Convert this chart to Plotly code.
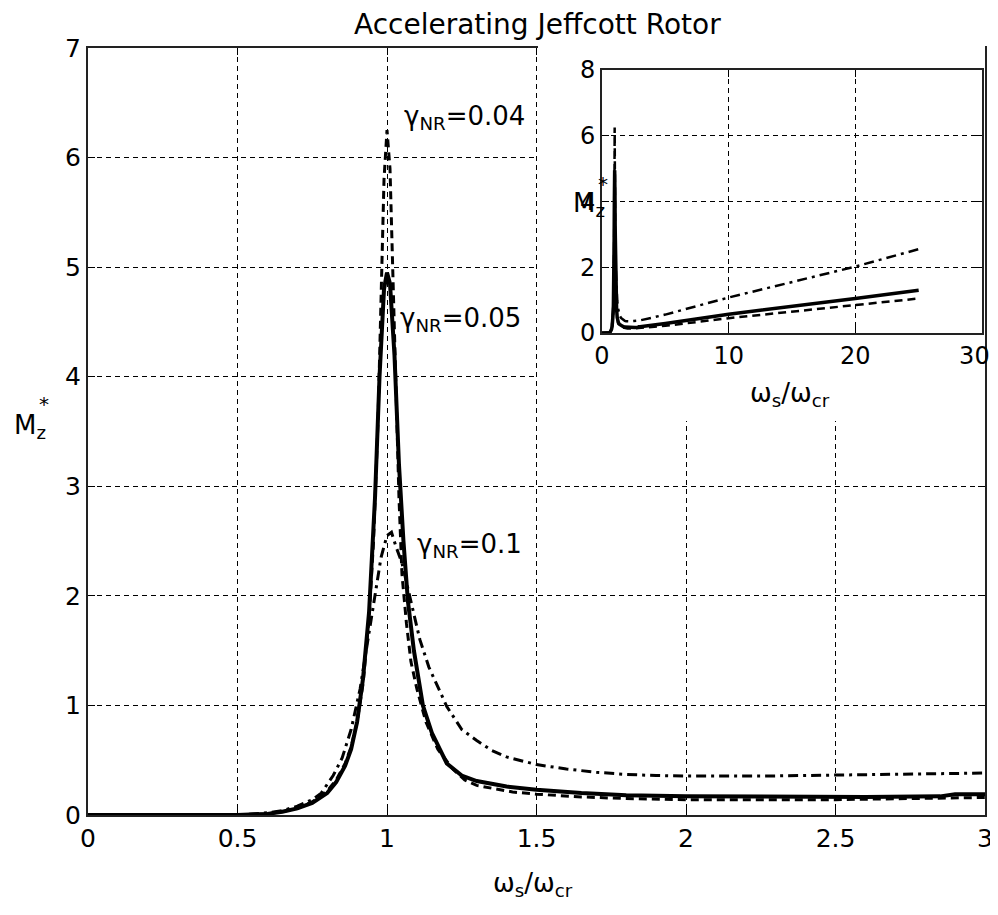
import plotly.graph_objects as go

# ---- data ----
x_g004 = [0, 0.5, 0.6, 0.65, 0.7, 0.75, 0.8, 0.83, 0.86, 0.88, 0.9, 0.92, 0.94, 0.955, 0.97, 0.98,
          0.99, 1.0, 1.01, 1.02, 1.03, 1.04, 1.05, 1.065, 1.08, 1.1, 1.13, 1.17, 1.22, 1.26, 1.3,
          1.42, 1.5, 1.65, 1.8, 2.0, 2.5, 3.0, 5, 10, 15, 20, 25]
y_g004 = [0, 0, 0.01, 0.03, 0.06, 0.12, 0.22, 0.32, 0.47, 0.62, 0.85, 1.2, 1.8, 2.5, 3.6, 4.7,
          5.8, 6.25, 5.9, 4.9, 3.8, 2.9, 2.2, 1.75, 1.4, 1.15, 0.85, 0.6, 0.42, 0.32, 0.27,
          0.21, 0.19, 0.165, 0.15, 0.14, 0.14, 0.155, 0.22, 0.45, 0.65, 0.85, 1.05]

x_g005 = [0, 0.5, 0.6, 0.65, 0.7, 0.75, 0.8, 0.83, 0.86, 0.88, 0.9, 0.92, 0.94, 0.96, 0.975,
          0.99, 1.0, 1.01, 1.025, 1.04, 1.055, 1.07, 1.09, 1.12, 1.15, 1.2, 1.25, 1.3, 1.4,
          1.5, 1.65, 1.8, 2.0, 2.3, 2.6, 2.85, 2.9, 3.0, 5, 10, 15, 20, 25]
y_g005 = [0, 0, 0.01, 0.03, 0.06, 0.11, 0.2, 0.3, 0.45, 0.6, 0.85, 1.25, 1.85, 2.9, 4.0,
          4.8, 4.95, 4.85, 4.2, 3.2, 2.5, 1.95, 1.5, 1.0, 0.75, 0.47, 0.36, 0.31, 0.26,
          0.23, 0.2, 0.18, 0.17, 0.165, 0.165, 0.17, 0.19, 0.19, 0.29, 0.57, 0.8, 1.05, 1.3]

x_g01 = [0, 0.5, 0.6, 0.65, 0.7, 0.75, 0.78, 0.82, 0.85, 0.88, 0.91, 0.94, 0.96, 0.98, 1.0,
         1.015, 1.03, 1.05, 1.08, 1.11, 1.14, 1.17, 1.2, 1.25, 1.3, 1.35, 1.4, 1.5, 1.6, 1.7,
         1.8, 1.9, 2.0, 2.25, 2.5, 2.75, 3.0, 4, 5, 10, 15, 20, 25]
y_g01 = [0, 0, 0.02, 0.04, 0.08, 0.14, 0.2, 0.36, 0.52, 0.78, 1.15, 1.65, 2.0, 2.35, 2.55,
         2.58, 2.45, 2.3, 1.95, 1.6, 1.35, 1.17, 0.99, 0.78, 0.68, 0.59, 0.53, 0.46, 0.42, 0.39,
         0.37, 0.36, 0.355, 0.355, 0.365, 0.375, 0.383, 0.47, 0.56, 1.08, 1.55, 2.02, 2.55]

title_text = "Accelerating Jeffcott Rotor"
xlabel = "ω<sub>s</sub>/ω<sub>cr</sub>"
labels = ["γ<sub>NR</sub>=0.04", "γ<sub>NR</sub>=0.05", "γ<sub>NR</sub>=0.1"]
label_pos = [(1.05, 6.37), (1.037, 4.52), (1.094, 2.46)]

main_xticks = [0, 0.5, 1, 1.5, 2, 2.5, 3]
inset_xticks = [0, 10, 20, 30]
# last label padded with non-breaking spaces so it stays inside the page (as in the reference)
inset_xticktext = ["0", "10", "20", "30\u00a0\u00a0"]
inset_yticks = [0, 2, 4, 6, 8]

FONT = "DejaVu Sans, sans-serif"
FS = 25

# pixel geometry helpers (layout only); screen coords include the 8px page margin
OFF = 8
W, H = 990, 899
ML, MR, MT, MB = 80, 13, 20, 92
PW, PH = W - ML - MR, H - MT - MB
def px(x):
    return (x - OFF - ML) / PW
def py(y):
    return (H - MB - (y - OFF)) / PH

series = [
    (x_g004, y_g004, dict(color="black", width=3, dash="8px,5px")),
    (x_g005, y_g005, dict(color="black", width=4, dash="solid")),
    (x_g01, y_g01, dict(color="black", width=3, dash="10px,5px,3px,5px")),
]

fig = go.Figure()
for xs, ys, ln in series:
    fig.add_trace(go.Scatter(x=xs, y=ys, mode="lines", line=ln, showlegend=False,
                             xaxis="x", yaxis="y", hoverinfo="skip"))
# empty trace for the white cover subplot
fig.add_trace(go.Scatter(x=[], y=[], xaxis="x2", yaxis="y2", showlegend=False))
for xs, ys, ln in series:
    ln2 = dict(ln)
    ln2["width"] = ln["width"] - 0.5
    fig.add_trace(go.Scatter(x=xs, y=ys, mode="lines", line=ln2, showlegend=False,
                             xaxis="x3", yaxis="y3", hoverinfo="skip"))

axis_common = dict(
    showgrid=True, gridcolor="black", gridwidth=1, griddash="5px,4px",
    showline=True, linecolor="#222", linewidth=2, mirror="ticks",
    ticks="inside", ticklen=7, tickcolor="black", tickwidth=1.2,
    zeroline=False, automargin=False, ticklabeloverflow="allow",
    tickfont=dict(family=FONT, size=FS, color="black"),
)
inset_common = dict(axis_common)
inset_common["tickfont"] = dict(family=FONT, size=24, color="black")

fig.update_layout(
    width=W, height=H,
    margin=dict(l=ML, r=MR, t=MT, b=MB, autoexpand=False),
    paper_bgcolor="white", plot_bgcolor="white",
    font=dict(family=FONT, size=FS, color="black"),
    xaxis=dict(domain=[0, px(985)], range=[0, 3], tickvals=main_xticks, anchor="y",
               **axis_common),
    yaxis=dict(domain=[0, py(48)], range=[0, 7], dtick=1, anchor="x", **axis_common),
    xaxis2=dict(domain=[px(538), 1.0], range=[0, 1], visible=False, anchor="y2"),
    yaxis2=dict(domain=[py(421), py(40)], range=[0, 1], visible=False, anchor="x2"),
    xaxis3=dict(domain=[px(602), px(982)], range=[0, 30], tickvals=inset_xticks,
                ticktext=inset_xticktext, anchor="y3", **inset_common),
    yaxis3=dict(domain=[py(333), py(70)], range=[0, 8], tickvals=inset_yticks, anchor="x3",
                **inset_common),
)

ann = []
ann.append(dict(text=title_text, xref="paper", yref="paper", x=px(537), y=py(24),
                xanchor="center", yanchor="middle", showarrow=False,
                font=dict(family=FONT, size=28)))
for t, (lx, ly) in zip(labels, label_pos):
    ann.append(dict(text=t, xref="x", yref="y", x=lx, y=ly, xanchor="left", yanchor="middle",
                    showarrow=False, font=dict(family=FONT, size=26)))
# axis titles
ann.append(dict(text=xlabel, xref="paper", yref="paper", x=px(533), y=py(884),
                xanchor="center", yanchor="middle", showarrow=False,
                font=dict(family=FONT, size=26)))
ann.append(dict(text=xlabel, xref="paper", yref="paper", x=px(790), y=py(394),
                xanchor="center", yanchor="middle", showarrow=False,
                font=dict(family=FONT, size=26)))
ann.append(dict(text="M<sub>z</sub>", xref="paper", yref="paper", x=px(12),
                y=py(426), xanchor="left", yanchor="middle", showarrow=False,
                font=dict(family=FONT, size=26)))
ann.append(dict(text="*", xref="paper", yref="paper", x=px(37),
                y=py(404), xanchor="left", yanchor="middle", showarrow=False,
                font=dict(family=FONT, size=20)))
ann.append(dict(text="M<sub>z</sub>", xref="paper", yref="paper", x=px(571),
                y=py(204), xanchor="left", yanchor="middle", showarrow=False,
                font=dict(family=FONT, size=26)))
ann.append(dict(text="*", xref="paper", yref="paper", x=px(596),
                y=py(184), xanchor="left", yanchor="middle", showarrow=False,
                font=dict(family=FONT, size=20)))
fig.update_layout(annotations=ann)

fig.write_html("out.html")
